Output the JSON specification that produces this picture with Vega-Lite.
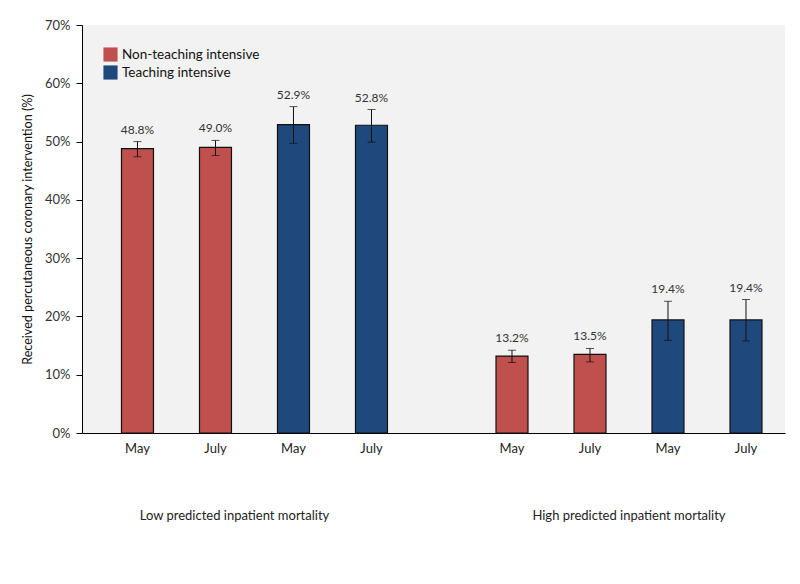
{
  "$schema": "https://vega.github.io/schema/vega-lite/v6.json",
  "width": 703,
  "height": 408,
  "autosize": {"type": "none"},
  "padding": {"left": 82, "top": 25, "right": 15, "bottom": 151},
  "background": "white",
  "config": {
    "view": {"stroke": null, "fill": "#f2f2f2"},
    "font": "Lato",
    "text": {"font": "Lato"}
  },
  "data": {
    "values": [
      {"group": "Low predicted inpatient mortality", "bar": "NT-May", "month": "May", "type": "Non-teaching intensive", "value": 48.8, "lo": 47.4, "hi": 50.0, "label": "48.8%"},
      {"group": "Low predicted inpatient mortality", "bar": "NT-July", "month": "July", "type": "Non-teaching intensive", "value": 49.0, "lo": 47.6, "hi": 50.2, "label": "49.0%"},
      {"group": "Low predicted inpatient mortality", "bar": "T-May", "month": "May", "type": "Teaching intensive", "value": 52.9, "lo": 49.7, "hi": 56.0, "label": "52.9%"},
      {"group": "Low predicted inpatient mortality", "bar": "T-July", "month": "July", "type": "Teaching intensive", "value": 52.8, "lo": 49.9, "hi": 55.5, "label": "52.8%"},
      {"group": "High predicted inpatient mortality", "bar": "NT-May", "month": "May", "type": "Non-teaching intensive", "value": 13.2, "lo": 12.1, "hi": 14.2, "label": "13.2%"},
      {"group": "High predicted inpatient mortality", "bar": "NT-July", "month": "July", "type": "Non-teaching intensive", "value": 13.5, "lo": 12.2, "hi": 14.5, "label": "13.5%"},
      {"group": "High predicted inpatient mortality", "bar": "T-May", "month": "May", "type": "Teaching intensive", "value": 19.4, "lo": 15.9, "hi": 22.6, "label": "19.4%"},
      {"group": "High predicted inpatient mortality", "bar": "T-July", "month": "July", "type": "Teaching intensive", "value": 19.4, "lo": 15.8, "hi": 22.9, "label": "19.4%"}
    ]
  },
  "encoding": {
    "x": {
      "field": "group",
      "type": "nominal",
      "sort": ["Low predicted inpatient mortality", "High predicted inpatient mortality"],
      "scale": {"paddingInner": 0.1669, "paddingOuter": 0.022, "align": 1},
      "axis": {
        "title": null,
        "labelAngle": 0,
        "ticks": false,
        "domainColor": "#000000",
        "domainWidth": 1.2,
        "labelPadding": 76,
        "labelFontSize": 13,
        "labelLimit": 0,
        "labelColor": "#222222",
        "labelFont": "Lato",
        "labelOffset": {"condition": {"test": "indexof(datum.value, 'Low') == 0", "value": -20}, "value": 0}
      }
    },
    "xOffset": {
      "field": "bar",
      "type": "nominal",
      "sort": ["NT-May", "NT-July", "T-May", "T-July"],
      "scale": {"paddingInner": 0.59, "paddingOuter": 0.295}
    }
  },
  "layer": [
    {
      "mark": {"type": "bar", "stroke": "#111111", "strokeWidth": 1.2},
      "encoding": {
        "y": {
          "field": "value",
          "type": "quantitative",
          "scale": {"domain": [0, 70], "nice": false},
          "axis": {
            "title": "Received percutaneous coronary intervention (%)",
            "titleFontSize": 12.6,
            "titleFontWeight": "normal",
            "titleColor": "#111111",
            "titlePadding": 10,
            "titleFont": "Lato",
            "values": [0, 10, 20, 30, 40, 50, 60, 70],
            "labelExpr": "datum.value + '%'",
            "labelFontSize": 13,
            "labelColor": "#333333",
            "labelFont": "Lato",
            "labelPadding": 6,
            "grid": false,
            "domainColor": "#000000",
            "tickColor": "#000000",
            "tickSize": 6
          }
        },
        "color": {
          "field": "type",
          "type": "nominal",
          "scale": {"domain": ["Non-teaching intensive", "Teaching intensive"], "range": ["#c0504d", "#1f497d"]},
          "legend": {
            "title": null,
            "orient": "none",
            "legendX": 21,
            "legendY": 22,
            "symbolType": "square",
            "symbolSize": 200,
            "symbolStrokeWidth": 0,
            "symbolOpacity": 1,
            "labelFontSize": 13.5,
            "labelColor": "#111111",
            "labelFont": "Lato",
            "rowPadding": 3,
            "labelOffset": 4
          }
        }
      }
    },
    {
      "mark": {"type": "rule", "color": "#111111", "strokeWidth": 1},
      "encoding": {
        "y": {"field": "lo", "type": "quantitative"},
        "y2": {"field": "hi"}
      }
    },
    {
      "mark": {"type": "tick", "color": "#111111", "size": 8, "thickness": 1},
      "encoding": {"y": {"field": "lo", "type": "quantitative"}}
    },
    {
      "mark": {"type": "tick", "color": "#111111", "size": 8, "thickness": 1},
      "encoding": {"y": {"field": "hi", "type": "quantitative"}}
    },
    {
      "mark": {"type": "text", "baseline": "bottom", "dy": -5, "fontSize": 12, "color": "#333333", "font": "Lato"},
      "encoding": {
        "y": {"field": "hi", "type": "quantitative"},
        "text": {"field": "label"}
      }
    },
    {
      "mark": {"type": "text", "baseline": "top", "dy": 10, "fontSize": 13, "color": "#222222", "font": "Lato"},
      "encoding": {
        "y": {"datum": 0},
        "text": {"field": "month"}
      }
    }
  ]
}
